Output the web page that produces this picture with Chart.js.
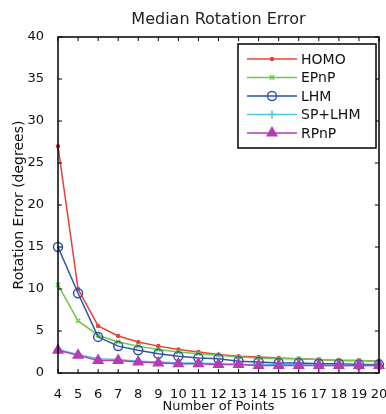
<!DOCTYPE html>
<html>
<head>
<meta charset="utf-8">
<script src="https://cdn.jsdelivr.net/npm/chart.js@4.4.1/dist/chart.umd.min.js"></script>
<style>
  html, body { margin: 0; padding: 0; background: #fff; }
  #wrap { width: 386px; height: 414px; }
</style>
</head>
<body>
<div id="wrap"><canvas id="chart"></canvas></div>
<script>
/* Data */
const points = [4, 5, 6, 7, 8, 9, 10, 11, 12, 13, 14, 15, 16, 17, 18, 19, 20];
const homo   = [27.0, 10.0, 5.6, 4.4, 3.7, 3.2, 2.8, 2.5, 2.2, 2.0, 1.9, 1.8, 1.7, 1.6, 1.5, 1.5, 1.4];
const epnp   = [10.5, 6.2, 4.5, 3.7, 3.2, 2.8, 2.5, 2.3, 2.1, 1.9, 1.8, 1.7, 1.7, 1.6, 1.5, 1.5, 1.4];
const lhm    = [15.0, 9.5, 4.3, 3.2, 2.7, 2.3, 2.0, 1.8, 1.7, 1.4, 1.3, 1.2, 1.2, 1.1, 1.1, 1.0, 1.0];
const spLhm  = [2.8, 2.2, 1.7, 1.6, 1.4, 1.3, 1.2, 1.2, 1.1, 1.0, 1.0, 1.0, 1.0, 0.9, 0.9, 0.9, 0.9];
const rpnp   = [2.7, 2.1, 1.5, 1.5, 1.3, 1.2, 1.1, 1.1, 1.0, 1.0, 0.9, 0.9, 0.9, 0.9, 0.9, 0.9, 0.9];
const yTicks = [0, 5, 10, 15, 20, 25, 30, 35, 40];

const FONT = "'DejaVu Sans', Arial, sans-serif";

/* Box, inner ticks, title and legend in matlab style */
const matlabFrame = {
  id: "matlabFrame",
  afterDraw(chart) {
    const { ctx, chartArea: a, scales } = chart;
    ctx.save();
    ctx.strokeStyle = "#000";
    ctx.lineWidth = 1.5;
    ctx.strokeRect(a.left, a.top, a.right - a.left, a.bottom - a.top);

    ctx.lineWidth = 1;
    points.forEach((p, i) => {
      const x = scales.x.getPixelForValue(i);
      ctx.beginPath();
      ctx.moveTo(x, a.bottom); ctx.lineTo(x, a.bottom - 4);
      ctx.moveTo(x, a.top); ctx.lineTo(x, a.top + 4);
      ctx.stroke();
    });
    yTicks.forEach(v => {
      const y = scales.y.getPixelForValue(v);
      ctx.beginPath();
      ctx.moveTo(a.left, y); ctx.lineTo(a.left + 4, y);
      ctx.moveTo(a.right, y); ctx.lineTo(a.right - 4, y);
      ctx.stroke();
    });

    // title
    ctx.fillStyle = "#222";
    ctx.font = "16px " + FONT;
    ctx.textAlign = "center";
    ctx.textBaseline = "middle";
    ctx.fillText("Median Rotation Error", (a.left + a.right) / 2, 20);

    // legend
    const lx = a.right - 141, ly = a.top + 7, lw = 138, lh = 104;
    ctx.fillStyle = "#fff";
    ctx.fillRect(lx, ly, lw, lh);
    ctx.lineWidth = 1.5;
    ctx.strokeStyle = "#000";
    ctx.strokeRect(lx, ly, lw, lh);
    ctx.font = "14px " + FONT;
    ctx.textAlign = "left";
    chart.data.datasets.forEach((ds, i) => {
      const y = ly + 15 + i * 18.5;
      const x0 = lx + 9, x1 = lx + 59, xm = (x0 + x1) / 2;
      ctx.strokeStyle = ds.borderColor;
      ctx.lineWidth = 1.5;
      ctx.beginPath(); ctx.moveTo(x0, y); ctx.lineTo(x1, y); ctx.stroke();
      ctx.fillStyle = ds.pointBackgroundColor;
      Chart.helpers.drawPoint(ctx, {
        pointStyle: ds.pointStyle,
        radius: ds.pointRadius,
        borderWidth: ds.pointBorderWidth
      }, xm, y);
      ctx.fillStyle = "#111";
      ctx.fillText(ds.label, x1 + 4, y + 1);
    });
    ctx.restore();
  }
};

function series(label, data, color, style, radius, fill, order) {
  return {
    label: label,
    data: data,
    order: order,
    borderColor: color,
    backgroundColor: color,
    pointBorderColor: color,
    pointBackgroundColor: fill ? color : "rgba(0,0,0,0)",
    pointStyle: style,
    pointRadius: radius,
    pointBorderWidth: 1.5,
    borderWidth: 1.5,
    tension: 0,
    fill: false
  };
}

new Chart(document.querySelector("#chart"), {
  type: "line",
  data: {
    labels: points,
    datasets: [
      series("HOMO", homo, "#e8403a", "circle", 1.5, true, 5),
      series("EPnP", epnp, "#6ccb48", "crossRot", 3, false, 4),
      series("LHM", lhm, "#2f55a8", "circle", 4.5, false, 3),
      series("SP+LHM", spLhm, "#4fc6e6", "cross", 4, false, 2),
      series("RPnP", rpnp, "#b53cb5", "triangle", 5.5, true, 1)
    ]
  },
  options: {
    responsive: true,
    maintainAspectRatio: false,
    animation: false,
    layout: { padding: { top: 37, right: 6, left: 0, bottom: 0 } },
    plugins: {
      legend: { display: false },
      title: { display: false },
      tooltip: { enabled: false }
    },
    scales: {
      x: {
        type: "category",
        offset: false,
        grid: { display: false },
        border: { display: false },
        ticks: { color: "#111", font: { family: FONT, size: 13 }, padding: 6, maxRotation: 0, autoSkip: false },
        title: { display: true, text: "Number of Points", color: "#111", font: { family: FONT, size: 13 }, padding: { top: 0, bottom: 0 } },
        afterFit(scale) {
          scale.height = 41;
          scale.paddingLeft = 0;
          scale.paddingRight = 0;
        }
      },
      y: {
        min: 0,
        max: 40,
        grid: { display: false },
        border: { display: false },
        ticks: { stepSize: 5, color: "#111", font: { family: FONT, size: 13 }, padding: 6 },
        title: { display: true, text: "Rotation Error (degrees)", color: "#111", font: { family: FONT, size: 14 }, padding: { top: 11, bottom: 0 } },
        afterFit(scale) {
          scale.width = 58;
          scale.paddingTop = 0;
          scale.paddingBottom = 0;
        }
      }
    }
  },
  plugins: [matlabFrame]
});
</script>
</body>
</html>
